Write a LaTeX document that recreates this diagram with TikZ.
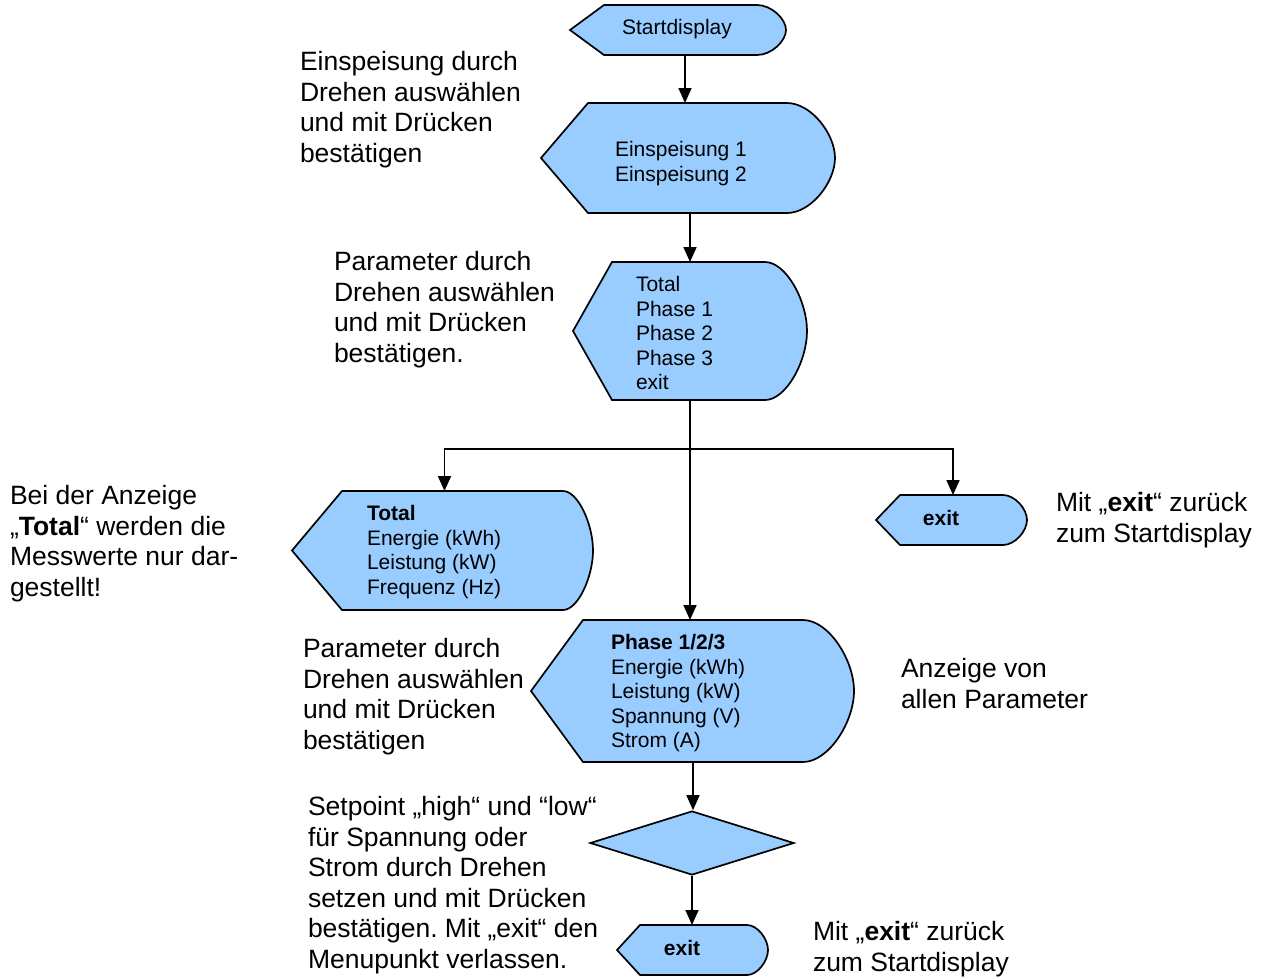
\documentclass[tikz,border=0pt]{standalone}
\usepackage{fontspec}
\setmainfont{Liberation Sans}
\usetikzlibrary{arrows.meta,shapes.geometric}
\definecolor{boxblue}{RGB}{153,204,255}
\frenchspacing
\tikzset{
  ann/.style={anchor=north west, inner sep=0, outer sep=0, align=left, font=\fontsize{26.5}{30.6}\selectfont},
  btxt/.style={anchor=north west, inner sep=0, outer sep=0, align=left, font=\fontsize{21}{24.5}\selectfont},
  ctxt/.style={anchor=base, inner sep=0, outer sep=0, font=\fontsize{21}{24.5}\selectfont},
  arr/.style={draw, line width=1.7pt, -{Triangle[length=15pt,width=13pt]}},
  disp/.style={fill=boxblue, draw=black, line width=1.7pt, line join=miter},
}
% name, xl, xr, top, bottom, point depth, curve width
\newcommand\dispbox[7]{%
  \path[disp] (#2,{(#4+#5)/2}) -- ({#2+#6},#4) -- ({#3-#7},#4)
    .. controls ({#3-0.5*#7},#4) and (#3,{(#4+#5)/2-0.22*(#5-#4)}) .. (#3,{(#4+#5)/2})
    .. controls (#3,{(#4+#5)/2+0.22*(#5-#4)}) and ({#3-0.5*#7},#5) .. ({#3-#7},#5)
    -- ({#2+#6},#5) -- cycle;
  \node[inner sep=0, outer sep=0, minimum width={(#3-#2)*1pt}, minimum height={(#5-#4)*1pt}] (#1) at ({(#2+#3)/2},{(#4+#5)/2}) {};
}
\begin{document}
\begin{tikzpicture}[x=1pt, y=-1pt]
\useasboundingbox (0,0) rectangle (1272,978);
\fill[white] (0,0) rectangle (1272,978);

% display shapes
\dispbox{start}{570}{786}{5}{55}{34}{29}
\dispbox{ein}{541}{835}{103}{213}{47}{48}
\dispbox{tp}{573}{807}{262}{400}{39}{42}
\dispbox{tot}{292}{593}{491}{610}{50}{30}
\dispbox{exR}{876}{1027}{495}{545}{24}{24}
\dispbox{ph}{531}{854}{620}{762}{52}{51}
\dispbox{exB}{617}{768}{925}{975}{23}{21}
\node[diamond, fill=boxblue, draw=black, line width=1.7pt, inner sep=0, minimum width=204pt, minimum height=64pt] (dia) at (692,843) {};

% box texts
\node[ctxt] (start-t) at (677,34.5) {Startdisplay};
\node[btxt] (ein-t) at (615,{156.5-17.15}) {\strut Einspeisung 1\\Einspeisung 2};
\node[btxt] (tp-t) at (636,{291.5-17.15}) {\strut Total\\Phase 1\\Phase 2\\Phase 3\\exit};
\node[btxt] (tot-t) at (367,{520.5-17.15}) {\strut\textbf{Total}\\Energie (kWh)\\Leistung (kW)\\Frequenz (Hz)};
\node[ctxt] (exR-t) at (941,525.5) {\textbf{exit}};
\node[btxt] (ph-t) at (611,{649.5-17.15}) {\strut\textbf{Phase 1/2/3}\\Energie (kWh)\\Leistung (kW)\\Spannung (V)\\Strom (A)};
\node[ctxt] (exB-t) at (682,955.5) {\textbf{exit}};

% connectors
\coordinate (split) at (690,449);
\draw[arr] ([xshift=7pt]start.south) -- ([xshift=7pt]start.south |- ein.north);
\draw[arr] (ein.south -| tp.north) -- (tp.north);
\draw[arr] (tp.south) -- (tp.south |- ph.north);
\draw[arr] (split) -| ([xshift=2pt]tot.north);
\draw[arr] (split) -| ([xshift=1.5pt]exR.north);
\draw[arr] ([xshift=0.5pt]ph.south) -- ([xshift=0.5pt]ph.south |- dia.north);
\draw[arr] (dia.south) -- (dia.south |- exB.north);

% annotations
\node[ann] (a-ein) at (300,{70.5-21.42}) {\strut Einspeisung durch\\Drehen auswählen\\und mit Drücken\\bestätigen};
\node[ann] (a-par1) at (334,{270.5-21.42}) {\strut Parameter durch\\Drehen auswählen\\und mit Drücken\\bestätigen.};
\node[ann] (a-bei) at (10,{504.5-21.42}) {\strut Bei der Anzeige\\„\textbf{Total}“ werden die\\Messwerte nur dar-\\gestellt!};
\node[ann] (a-exR) at (1056,{511.5-21.42}) {\strut Mit „\textbf{exit}“ zurück\\zum Startdisplay};
\node[ann] (a-par2) at (303,{657.5-21.42}) {\strut Parameter durch\\Drehen auswählen\\und mit Drücken\\bestätigen};
\node[ann] (a-anz) at (901,{677.5-21.42}) {\strut Anzeige von\\allen Parameter};
\node[ann] (a-set) at (308,{815.5-21.42}) {\strut Setpoint „high“ und “low“\\für Spannung oder\\Strom durch Drehen\\setzen und mit Drücken\\bestätigen. Mit „exit“ den\\Menupunkt verlassen.};
\node[ann] (a-exB) at (813,{940.5-21.42}) {\strut Mit „\textbf{exit}“ zurück\\zum Startdisplay};
\end{tikzpicture}
\end{document}
